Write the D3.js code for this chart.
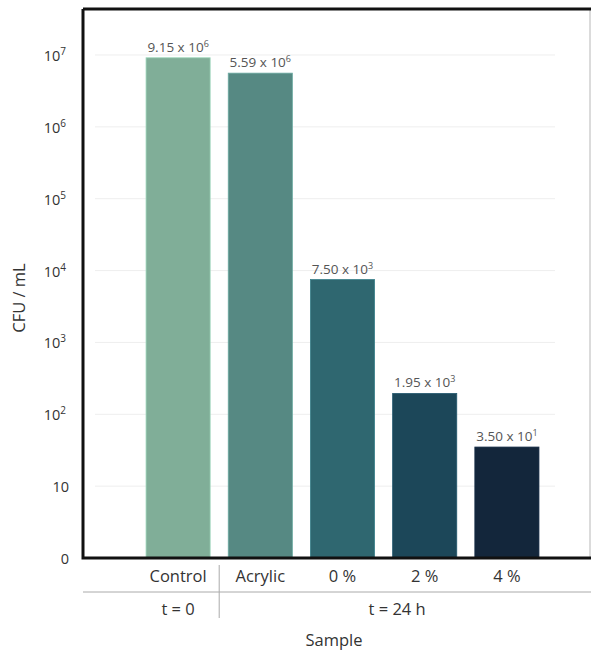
<!DOCTYPE html>
<html><head><meta charset="utf-8">
<script src="https://cdn.jsdelivr.net/npm/d3@7"></script>
<style>body{margin:0;background:#fff;} text{font-family:"Open Sans",Lato,sans-serif;}</style>
</head><body><svg id="c" width="591" height="654"></svg>
<script>
const categories = ["Control","Acrylic","0 %","2 %","4 %"];
const values = [9.15e6, 5.59e6, 7.50e3, 1.95e2, 3.50e1];
const labelMantissa = ["9.15","5.59","7.50","1.95","3.50"];
const labelExp = ["6","6","3","3","1"];
const colors = ["#80ae98","#568983","#2f6770","#1c4759","#13263b"];
const tickValues = [1,10,1e2,1e3,1e4,1e5,1e6,1e7];
const tickBase = ["0","10","10","10","10","10","10","10"];
const tickExp = ["","","2","3","4","5","6","7"];
const groups = [{name:"t = 0", from:0, to:0},{name:"t = 24 h", from:1, to:4}];

const svg = d3.select("#c");
const L = 83, R = 590, T = 9, B = 558;
const y = d3.scaleLog().domain([1, Math.pow(10,7.64)]).range([B, T]);
const x = d3.scaleBand().domain(categories).range([137,548]).paddingInner(0.22).paddingOuter(0.11);

// gridlines
svg.append("g").selectAll("line").data(tickValues.slice(1)).join("line")
  .attr("x1",95).attr("x2",555).attr("y1",d=>y(d)).attr("y2",d=>y(d))
  .attr("stroke","#eeeeee").attr("stroke-width",1);

// bars
svg.append("g").selectAll("rect").data(values).join("rect")
  .attr("x",(d,i)=>x(categories[i])).attr("width",x.bandwidth())
  .attr("y",d=>y(d)).attr("height",d=>B-y(d))
  .attr("fill",(d,i)=>colors[i]).attr("stroke",(d,i)=>d3.color(colors[i]).brighter(0.6)).attr("stroke-width",0.8);

// bar labels
const lab = svg.append("g").selectAll("text").data(values).join("text")
  .attr("x",(d,i)=>x(categories[i])+x.bandwidth()/2).attr("y",d=>y(d)-6)
  .attr("text-anchor","middle").attr("font-size",13.5).attr("fill","#555");
lab.append("tspan").text((d,i)=>labelMantissa[i]+" x 10");
lab.append("tspan").attr("dy",-5).attr("font-size",9).text((d,i)=>labelExp[i]);

// y tick labels
const yt = svg.append("g").selectAll("text").data(tickValues).join("text")
  .attr("x",(d,i)=>tickExp[i]?66:69).attr("y",d=>y(d)+6)
  .attr("text-anchor","end").attr("font-size",14.5).attr("fill","#333");
yt.append("tspan").text((d,i)=>tickBase[i]);
yt.append("tspan").attr("dy",-6).attr("font-size",10).text((d,i)=>tickExp[i]);

// y title
svg.append("text").attr("transform","translate(25,298) rotate(-90)")
  .attr("text-anchor","middle").attr("font-size",16.5).attr("fill","#333").text("CFU / mL");

// frame
svg.append("line").attr("x1",R).attr("x2",R).attr("y1",T).attr("y2",B).attr("stroke","#cfcfcf").attr("stroke-width",1.5);
svg.append("path").attr("d",`M${L},${T}H${R+1}`).attr("stroke","#111").attr("stroke-width",3).attr("fill","none");
svg.append("path").attr("d",`M${L},${T}V${B}H${R+1}`).attr("stroke","#111").attr("stroke-width",3).attr("fill","none");

// x category labels
svg.append("g").selectAll("text").data(categories).join("text")
  .attr("x",d=>x(d)+x.bandwidth()/2).attr("y",582).attr("text-anchor","middle")
  .attr("font-size",16.5).attr("fill","#333").text(d=>d);

// group separators
const sepX = (x(categories[0])+x.bandwidth()+x(categories[1]))/2;
svg.append("line").attr("x1",L).attr("x2",R+1).attr("y1",592).attr("y2",592).attr("stroke","#aaa").attr("stroke-width",1);
svg.append("line").attr("x1",sepX).attr("x2",sepX).attr("y1",565).attr("y2",618).attr("stroke","#aaa").attr("stroke-width",1);

svg.append("g").selectAll("text").data(groups).join("text")
  .attr("x",(g,i)=> i===0 ? x(categories[g.from])+x.bandwidth()/2 : (sepX+575)/2)
  .attr("y",615).attr("text-anchor","middle").attr("font-size",16.5).attr("fill","#333").text(g=>g.name);

svg.append("text").attr("x",334).attr("y",646).attr("text-anchor","middle")
  .attr("font-size",16.5).attr("fill","#333").text("Sample");
</script></body></html>
